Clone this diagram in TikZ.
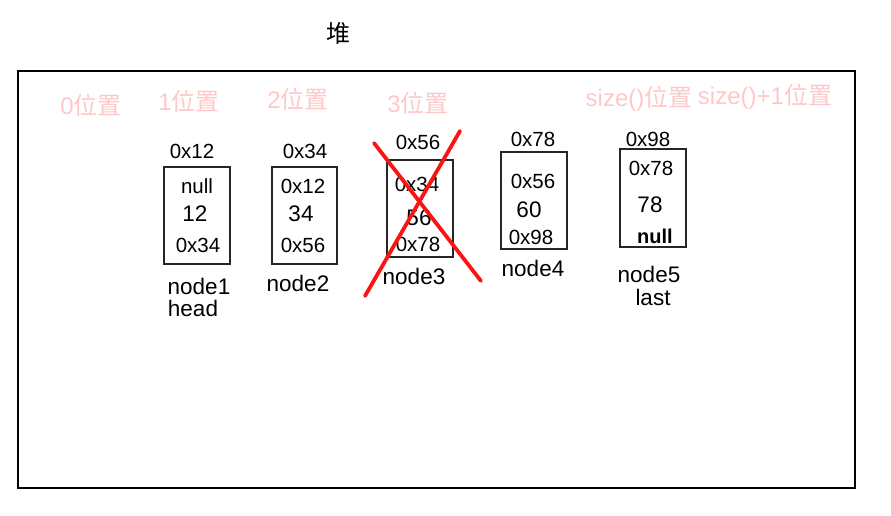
\documentclass[tikz,border=0pt]{standalone}
\usepackage{fontspec}
\setmainfont{Liberation Sans}
\newfontfamily\cjk{Noto Sans CJK SC}
\definecolor{pinklbl}{RGB}{255,200,200}
\definecolor{crossred}{RGB}{250,20,20}
\begin{document}
\begin{tikzpicture}[x=1pt,y=-1pt,
  txt/.style={inner sep=0pt,font=\fontsize{20.5}{22}\selectfont},
  big/.style={inner sep=0pt,font=\fontsize{22.5}{24}\selectfont},
  lbl/.style={inner sep=0pt,font=\fontsize{22.5}{24}\selectfont},
  poslabel/.style={inner sep=0pt,text=pinklbl,font=\fontsize{24}{26}\selectfont},
  cell/.style={draw=black!85,line width=1.2pt},
  cross/.style={draw=crossred,line width=3.8pt,line cap=round}]
\useasboundingbox (0,0) rectangle (891,516);
\node[inner sep=0pt,font=\cjk\fontsize{24}{26}\selectfont] (title) at (338,33) {堆};
\draw[line width=2pt] (18,71) rectangle (855,488);
% position labels
\node[poslabel] (p0) at (91,105) {0{\cjk 位置}};
\node[poslabel] (p1) at (189,101) {1{\cjk 位置}};
\node[poslabel] (p2) at (298,99) {2{\cjk 位置}};
\node[poslabel] (p3) at (418,103) {3{\cjk 位置}};
\node[poslabel] (ps) at (639,99) {size(){\cjk 位置}};
\node[poslabel] (ps1) at (765,97) {size()+1{\cjk 位置}};
% node1
\draw[cell] (164,167) rectangle (230,264);
\node[txt] (a1) at (192,151) {0x12};
\node[txt] (n1a) at (197,186) {null};
\node[big] (n1b) at (195,214) {12};
\node[txt] (n1c) at (198,245) {0x34};
\node[lbl] (l1) at (199,286) {node1};
\node[lbl] (h1) at (193,308) {head};
% node2
\draw[cell] (272,167) rectangle (337,264);
\node[txt] (a2) at (305,151) {0x34};
\node[txt] (n2a) at (303,186) {0x12};
\node[big] (n2b) at (301,214) {34};
\node[txt] (n2c) at (303,245) {0x56};
\node[lbl] (l2) at (298,283) {node2};
% node3
\draw[cell] (387,160) rectangle (453,257);
\node[txt] (a3) at (418,142) {0x56};
\node[txt] (n3a) at (417,184) {0x34};
\node[big] (n3b) at (419,218) {56};
\node[txt] (n3c) at (418,244) {0x78};
\node[lbl] (l3) at (414,276) {node3};
% node4
\draw[cell] (501,152) rectangle (567,249);
\node[txt] (a4) at (533,139) {0x78};
\node[txt] (n4a) at (533,181) {0x56};
\node[big] (n4b) at (529,210) {60};
\node[txt] (n4c) at (531,237) {0x98};
\node[lbl] (l4) at (533,268) {node4};
% node5
\draw[cell] (620,149) rectangle (686,247);
\node[txt] (a5) at (648,139) {0x98};
\node[txt] (n5a) at (651,168) {0x78};
\node[big] (n5b) at (650,205) {78};
\node[txt,font=\fontsize{20}{22}\selectfont\bfseries] (n5c) at (655,236) {null};
\node[lbl] (l5) at (649,274) {node5};
\node[lbl] (last5) at (653,297) {last};
% red cross
\coordinate (c1) at (374,143);
\coordinate (c2) at (481,281);
\coordinate (c3) at (460,131);
\coordinate (c4) at (365,296);
\draw[cross] (c1) -- (c2);
\draw[cross] (c3) -- (c4);
\end{tikzpicture}
\end{document}
